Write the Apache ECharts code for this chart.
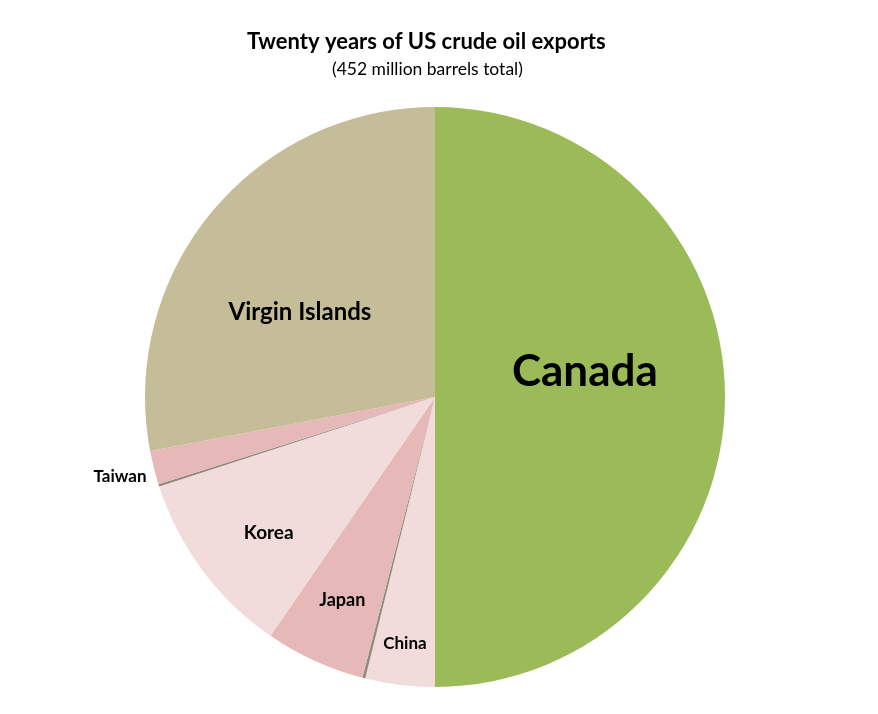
<!DOCTYPE html>
<html><head><meta charset="utf-8">
<script src="https://cdn.jsdelivr.net/npm/echarts@6/dist/echarts.min.js"></script>
<style>html,body{margin:0;padding:0;background:#fff}#c{width:878px;height:714px}</style>
</head><body><div id="c"></div>
<script>
// Data (million barrels; total 452)
const countries = ['Canada', 'China', '', 'Japan', 'Korea', ' ', 'Taiwan', 'Virgin Islands'];
const values    = [226, 17.5, 0.7, 25.2, 47, 0.6, 8.5, 126.5];
const colors    = ['#9BBB59', '#F2DCDB', '#8C8C7E', '#E6B9B8', '#F2DCDB', '#8C8C7E', '#E6B9B8', '#C4BD97'];
const titleText = 'Twenty years of US crude oil exports';
const subText   = '(452 million barrels total)';

// label styling / placement (radial fraction, angular shift in degrees, font size)
const labelCfg = {
  'Canada':         {r: 0.524, shift: -9.5, size: 44},
  'China':          {r: 0.855, shift: 0,    size: 17},
  'Japan':          {r: 0.77,  shift: 0,    size: 18},
  'Korea':          {r: 0.74,  shift: -2.5, size: 19},
  'Taiwan':         {r: 1.12,  shift: 0,    size: 17},
  'Virgin Islands': {r: 0.55,  shift: -7.5, size: 24}
};
const CX = 435, CY = 397, R = 290;
const total = values.reduce((a, b) => a + b, 0);
const midAngles = [];
let acc = 0;
values.forEach(v => { midAngles.push((acc + v / 2) / total * 360); acc += v; });

const chart = echarts.init(document.getElementById('c'));
chart.setOption({
  animation: false,
  title: [
    {text: titleText, left: 242, top: 26, textStyle: {fontFamily: 'Lato', fontWeight: 'bold', fontSize: 22, color: '#000'}},
    {text: subText, left: 327, top: 55, textStyle: {fontFamily: 'Lato', fontWeight: 'normal', fontSize: 17.5, color: '#000'}}
  ],
  series: [{
    type: 'pie',
    center: [CX, CY],
    radius: R,
    startAngle: 90,
    clockwise: true,
    avoidLabelOverlap: false,
    labelLine: {show: false},
    itemStyle: {borderWidth: 0},
    emphasis: {disabled: true},
    data: countries.map((n, i) => ({
      name: n, value: values[i],
      itemStyle: {color: colors[i]},
      label: labelCfg[n.trim()] ? {
        show: true, position: 'inside', formatter: '{b}',
        fontFamily: 'Lato', fontWeight: 'bold', color: '#000', fontSize: labelCfg[n.trim()].size
      } : {show: false}
    })),
    labelLayout: function (p) {
      const cfg = labelCfg[countries[p.dataIndex].trim()];
      if (!cfg) return {};
      const a = (midAngles[p.dataIndex] + cfg.shift) * Math.PI / 180;
      return {
        x: CX + Math.sin(a) * R * cfg.r,
        y: CY - Math.cos(a) * R * cfg.r,
        align: 'center', verticalAlign: 'middle'
      };
    }
  }]
});
</script></body></html>
